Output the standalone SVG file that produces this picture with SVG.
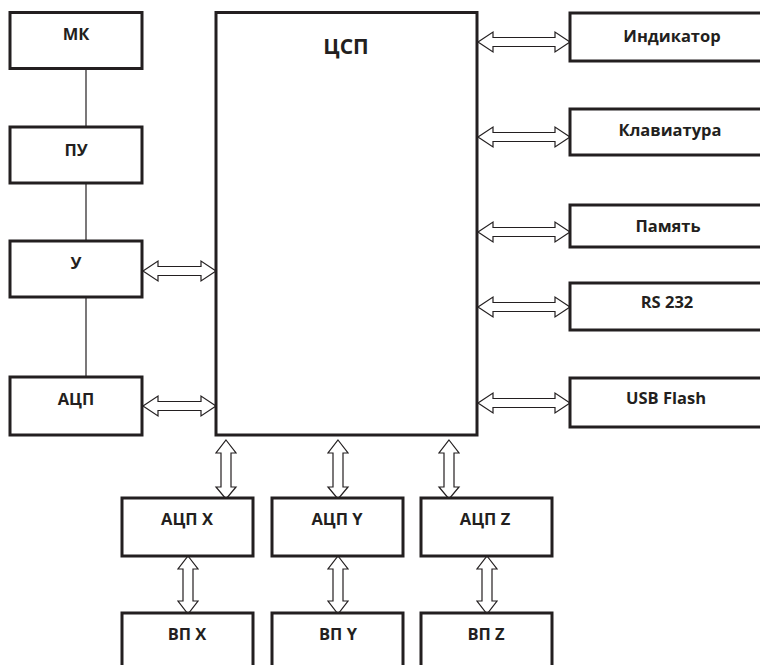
<svg xmlns="http://www.w3.org/2000/svg" width="760" height="665" viewBox="0 0 760 665">
<style>
.box{fill:#fff;stroke:#231f20;stroke-width:3}
.t{font-family:"Open Sans","DejaVu Sans",sans-serif;font-weight:bold;font-size:16.5px;fill:#231f20;text-anchor:middle}
.big{font-size:21px}
.ln{stroke:#231f20;stroke-width:1.2;fill:none}
.ar{fill:#fff;stroke:#231f20;stroke-width:1.2;stroke-linejoin:miter}
</style>
<rect width="760" height="665" fill="#fff"/>
<g id="connectors">
<line class="ln" x1="86" y1="68" x2="86" y2="127"/>
<line class="ln" x1="86" y1="183" x2="86" y2="241"/>
<line class="ln" x1="86" y1="297" x2="86" y2="377"/>
<polygon class="ar" points="143,271 158,261 158,266.5 201,266.5 201,261 216,271 201,281 201,275.5 158,275.5 158,281"/>
<polygon class="ar" points="143,406 158,396 158,401.5 201,401.5 201,396 216,406 201,416 201,410.5 158,410.5 158,416"/>
<polygon class="ar" points="478,42 493,32 493,37.5 555,37.5 555,32 570,42 555,52 555,46.5 493,46.5 493,52"/>
<polygon class="ar" points="478,137 493,127 493,132.5 555,132.5 555,127 570,137 555,147 555,141.5 493,141.5 493,147"/>
<polygon class="ar" points="478,232 493,222 493,227.5 555,227.5 555,222 570,232 555,242 555,236.5 493,236.5 493,242"/>
<polygon class="ar" points="478,307 493,297 493,302.5 555,302.5 555,297 570,307 555,317 555,311.5 493,311.5 493,317"/>
<polygon class="ar" points="478,403 493,393 493,398.5 555,398.5 555,393 570,403 555,413 555,407.5 493,407.5 493,413"/>
<polygon class="ar" points="226,440 236,453 231,453 231,487 236,487 226,499 216,487 221,487 221,453 216,453"/>
<polygon class="ar" points="338,440 348,453 343,453 343,487 348,487 338,499 328,487 333,487 333,453 328,453"/>
<polygon class="ar" points="449,440 459,453 454,453 454,487 459,487 449,499 439,487 444,487 444,453 439,453"/>
<polygon class="ar" points="188,556 198,569 193,569 193,601 198,601 188,614 178,601 183,601 183,569 178,569"/>
<polygon class="ar" points="338,556 348,569 343,569 343,601 348,601 338,614 328,601 333,601 333,569 328,569"/>
<polygon class="ar" points="487,556 497,569 492,569 492,601 497,601 487,614 477,601 482,601 482,569 477,569"/>
</g>
<g id="mk"><rect class="box" x="10" y="12.5" width="132" height="56"/><text class="t" x="76" y="39.5">МК</text></g>
<g id="pu"><rect class="box" x="10" y="127" width="132" height="56"/><text class="t" x="76" y="155.5">ПУ</text></g>
<g id="u"><rect class="box" x="10" y="241" width="132" height="56"/><text class="t" x="76" y="269">У</text></g>
<g id="adc"><rect class="box" x="10" y="377" width="132" height="58"/><text class="t" x="76" y="404.5">АЦП</text></g>
<g id="dsp"><rect class="box" x="216" y="12.5" width="261" height="422.5"/><text class="t big" x="346" y="53.5">ЦСП</text></g>
<g id="ind"><rect class="box" x="570" y="13" width="200" height="48"/><text class="t" x="672" y="41.5">Индикатор</text></g>
<g id="kbd"><rect class="box" x="570" y="109" width="200" height="46"/><text class="t" x="670" y="135.5">Клавиатура</text></g>
<g id="mem"><rect class="box" x="570" y="205" width="200" height="42"/><text class="t" x="668" y="231.5">Память</text></g>
<g id="rs"><rect class="box" x="570" y="283" width="200" height="47"/><text class="t" x="667" y="307.5">RS 232</text></g>
<g id="usb"><rect class="box" x="570" y="378" width="200" height="49"/><text class="t" x="666" y="403.5">USB Flash</text></g>
<g id="adcx"><rect class="box" x="122" y="498" width="131" height="58"/><text class="t" x="187" y="524.5">АЦП X</text></g>
<g id="adcy"><rect class="box" x="272" y="498" width="131" height="58"/><text class="t" x="337" y="524.5">АЦП Y</text></g>
<g id="adcz"><rect class="box" x="421" y="498" width="131" height="58"/><text class="t" x="485" y="524.5">АЦП Z</text></g>
<g id="vpx"><rect class="box" x="122" y="613" width="131" height="70"/><text class="t" x="187" y="639.5">ВП X</text></g>
<g id="vpy"><rect class="box" x="272" y="613" width="131" height="70"/><text class="t" x="338" y="639.5">ВП Y</text></g>
<g id="vpz"><rect class="box" x="421" y="613" width="131" height="70"/><text class="t" x="486" y="639.5">ВП Z</text></g>
</svg>
